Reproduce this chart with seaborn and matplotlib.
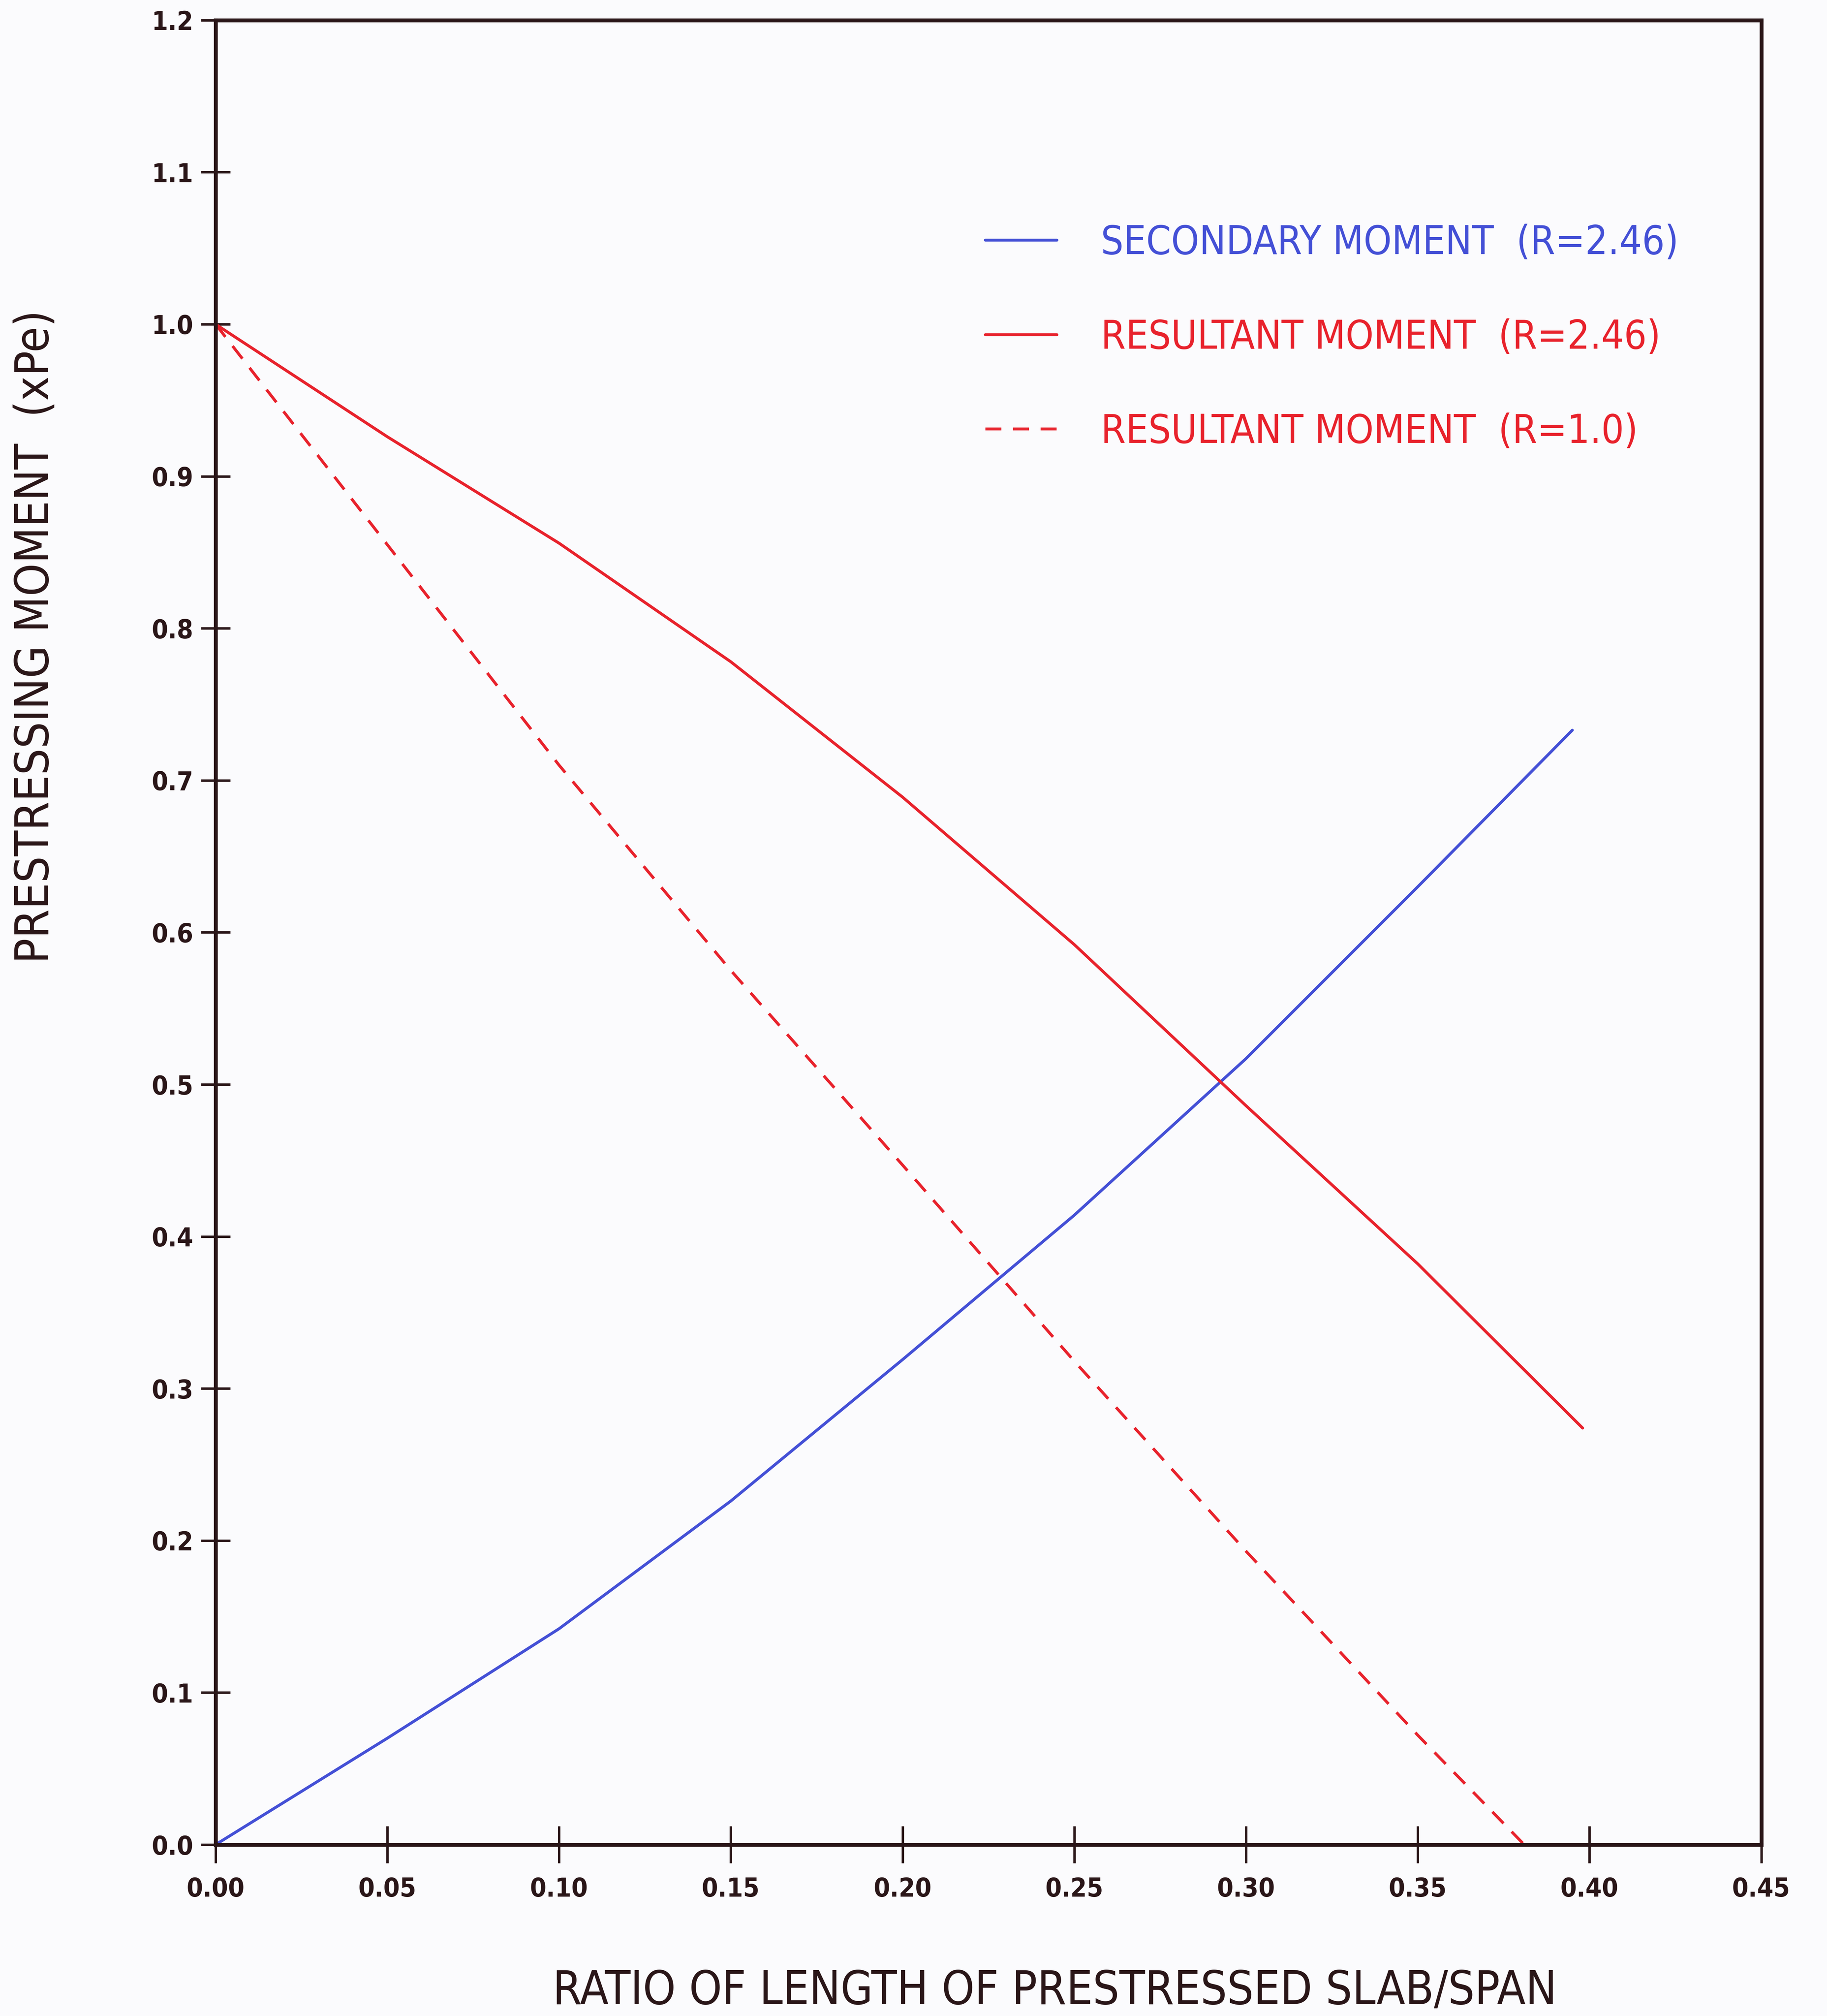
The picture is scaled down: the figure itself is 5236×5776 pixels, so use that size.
import numpy as np
import pandas as pd
import matplotlib
matplotlib.use("Agg")
import matplotlib.pyplot as plt
import seaborn as sns

# values
ratio = [0.00, 0.05, 0.10, 0.15, 0.20, 0.25, 0.30, 0.35, 0.395]
secondary_246 = [0.000, 0.070, 0.142, 0.226, 0.319, 0.414, 0.517, 0.630, 0.733]

ratio_res = [0.00, 0.05, 0.10, 0.15, 0.20, 0.25, 0.30, 0.35, 0.398]
resultant_246 = [1.000, 0.926, 0.856, 0.778, 0.689, 0.592, 0.486, 0.382, 0.274]

ratio_r1 = [0.00, 0.05, 0.10, 0.15, 0.20, 0.25, 0.30, 0.35, 0.381]
resultant_10 = [1.000, 0.855, 0.710, 0.575, 0.447, 0.318, 0.193, 0.072, 0.000]

labels = ["SECONDARY MOMENT  (R=2.46)",
          "RESULTANT MOMENT  (R=2.46)",
          "RESULTANT MOMENT  (R=1.0)"]

x_ticks = [0.00, 0.05, 0.10, 0.15, 0.20, 0.25, 0.30, 0.35, 0.40, 0.45]
y_ticks = [0.0, 0.1, 0.2, 0.3, 0.4, 0.5, 0.6, 0.7, 0.8, 0.9, 1.0, 1.1, 1.2]

BLUE = "#4450d6"
RED = "#e8222c"
INK = "#2a1618"

sns.set_style("ticks")
plt.rcParams["font.family"] = ["DejaVu Sans"]
plt.rcParams["font.stretch"] = "condensed"

fig = plt.figure(figsize=(26.18, 28.88), dpi=200, facecolor="#fbfbfd")
ax = fig.add_axes([0.118, 0.085, 0.846, 0.905])
ax.set_facecolor("#fbfbfd")

sns.lineplot(x=ratio, y=secondary_246, ax=ax, color=BLUE, lw=3.0, label=labels[0])
sns.lineplot(x=ratio_res, y=resultant_246, ax=ax, color=RED, lw=3.0, label=labels[1])
sns.lineplot(x=ratio_r1, y=resultant_10, ax=ax, color=RED, lw=3.0, label=labels[2])
ax.lines[2].set_dashes([5.5, 4])

ax.set_xlim(0, 0.45)
ax.set_ylim(0, 1.2)
ax.set_xticks(x_ticks)
ax.set_yticks(y_ticks)
ax.set_xticklabels([f"{v:.2f}" for v in x_ticks], fontsize=27, fontweight="bold", color=INK)
ax.set_yticklabels([f"{v:.1f}" for v in y_ticks], fontsize=27, fontweight="bold", color=INK)
ax.tick_params(axis="x", direction="inout", length=38, width=2.5, pad=14, colors=INK)
ax.tick_params(axis="y", direction="inout", length=30, width=2.5, pad=8, colors=INK)

for sp in ax.spines.values():
    sp.set_visible(True)
    sp.set_linewidth(4)
    sp.set_color(INK)

ax.set_xlabel("RATIO OF LENGTH OF PRESTRESSED SLAB/SPAN", fontsize=48, color=INK)
ax.set_ylabel("PRESTRESSING MOMENT  (xPe)", fontsize=48, color=INK)
ax.xaxis.set_label_coords(0.543, -0.068)
ax.yaxis.set_label_coords(-0.102, 0.662)

leg = ax.legend(loc="upper left", bbox_to_anchor=(0.475, 0.908), frameon=False,
                fontsize=41, handlelength=1.8, handletextpad=1.1, labelspacing=1.4,
                labelcolor=[BLUE, RED, RED])
for h in leg.get_lines():
    h.set_linewidth(3.0)

fig.savefig("out.png", dpi=200, facecolor=fig.get_facecolor())
plt.close(fig)
